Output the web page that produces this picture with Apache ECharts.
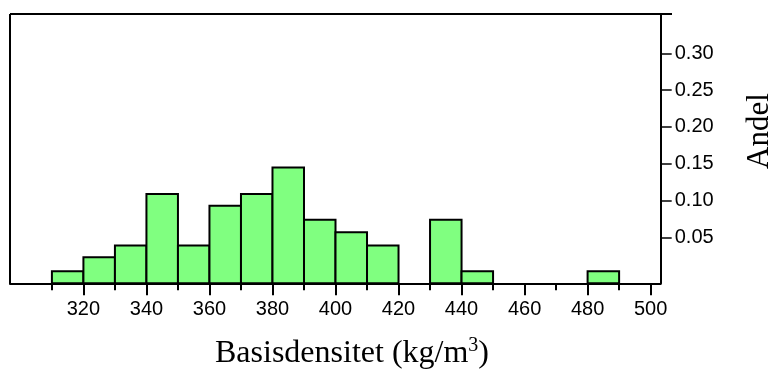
<!DOCTYPE html>
<html>
<head>
<meta charset="utf-8">
<script src="https://cdn.jsdelivr.net/npm/echarts@6/dist/echarts.min.js"></script>
<style>
  html, body { margin: 0; padding: 0; background: #fff; }
  #chart { width: 773px; height: 369px; }
</style>
</head>
<body>
<div id="chart"></div>
<script>
// bin start (kg/m3), each bin is 10 wide
const binStarts = [310, 320, 330, 340, 350, 360, 370, 380, 390, 400, 410, 420, 430, 440, 450, 460, 470, 480]
// andel per bin
const andel = [0.004, 0.023, 0.039, 0.109, 0.039, 0.093, 0.109, 0.145, 0.074, 0.057, 0.039, 0, 0.074, 0.004, 0, 0, 0, 0.004]
const binWidth = 10

const xMajorTicks = [320, 340, 360, 380, 400, 420, 440, 460, 480, 500]
const xMinorTicks = [310, 330, 350, 370, 390, 410, 430, 450, 470, 490]
const yTicks = [0.05, 0.10, 0.15, 0.20, 0.25, 0.30]

const xMin = 296.7
const xMax = 503.2
const yMin = -0.0125
const yMax = 0.3534

const chart = echarts.init(document.getElementById('chart'), null, { renderer: 'canvas' })

const barData = binStarts.map((s, i) => [s, s + binWidth, andel[i]])

const option = {
  animation: false,
  backgroundColor: '#fff',
  grid: { left: 10, top: 14, width: 650.7, height: 269.3 },
  xAxis: [
    {
      type: 'value',
      position: 'bottom',
      min: xMin,
      max: xMax,
      splitLine: { show: false },
      axisLine: { show: true, onZero: false, lineStyle: { color: '#000', width: 2 } },
      axisTick: {
        show: true,
        customValues: xMajorTicks,
        length: 12,
        lineStyle: { color: '#000', width: 2 },
      },
      axisLabel: {
        customValues: xMajorTicks,
        margin: 16,
        color: '#000',
        fontFamily: 'Liberation Sans',
        fontSize: 20,
      },
    },
    {
      type: 'value',
      position: 'bottom',
      min: xMin,
      max: xMax,
      splitLine: { show: false },
      axisLine: { show: false, onZero: false },
      axisTick: {
        show: true,
        customValues: xMinorTicks,
        length: 7,
        lineStyle: { color: '#000', width: 2 },
      },
      axisLabel: { show: false },
    },
  ],
  yAxis: {
    type: 'value',
    position: 'right',
    min: yMin,
    max: yMax,
    splitLine: { show: false },
    axisLine: { show: true, onZero: false, lineStyle: { color: '#000', width: 2 } },
    axisTick: {
      show: true,
      customValues: yTicks,
      length: 11,
      lineStyle: { color: '#000', width: 1.5 },
    },
    axisLabel: {
      customValues: yTicks,
      margin: 14,
      color: '#000',
      fontFamily: 'Liberation Sans',
      fontSize: 20,
      formatter: v => v.toFixed(2),
    },
  },
  graphic: [
    // frame: top edge runs a bit past the right axis, left edge closes the box
    {
      type: 'line',
      shape: { x1: 10, y1: 14, x2: 672, y2: 14 },
      style: { stroke: '#000', lineWidth: 2 },
      z: 10,
    },
    {
      type: 'line',
      shape: { x1: 10, y1: 14, x2: 10, y2: 284 },
      style: { stroke: '#000', lineWidth: 2 },
      z: 10,
    },
    {
      type: 'text',
      x: 352,
      y: 354,
      style: {
        text: 'Basisdensitet (kg/m{sup|3})',
        fontFamily: 'Liberation Serif',
        fontSize: 32,
        fill: '#000',
        align: 'center',
        verticalAlign: 'middle',
        rich: {
          sup: {
            fontFamily: 'Liberation Serif',
            fontSize: 20,
            verticalAlign: 'top',
            padding: [0, 0, 16, 0],
          },
        },
      },
    },
    {
      type: 'text',
      x: 760,
      y: 131,
      rotation: Math.PI / 2,
      style: {
        text: 'Andel',
        fontFamily: 'Liberation Serif',
        fontSize: 31,
        fill: '#000',
        align: 'center',
        verticalAlign: 'middle',
      },
    },
  ],
  series: [
    {
      type: 'custom',
      xAxisIndex: 0,
      yAxisIndex: 0,
      data: barData,
      renderItem: (params, api) => {
        const v = api.value(2)
        if (!v) return null
        const p0 = api.coord([api.value(0), v])
        const p1 = api.coord([api.value(1), yMin])
        return {
          type: 'rect',
          shape: { x: p0[0], y: p0[1], width: p1[0] - p0[0], height: p1[1] - p0[1] },
          style: { fill: '#80ff80', stroke: '#000', lineWidth: 2 },
        }
      },
    },
  ],
}

chart.setOption(option)
</script>
</body>
</html>
